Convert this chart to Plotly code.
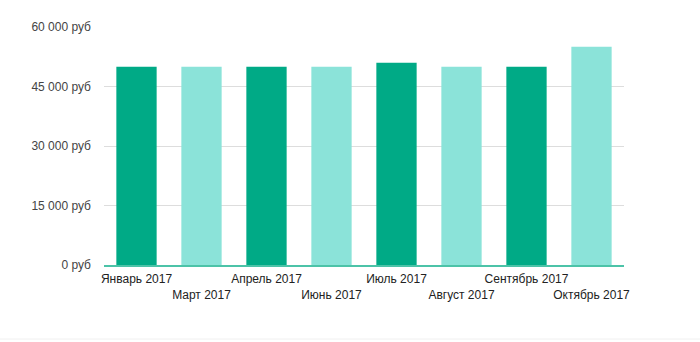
import plotly.graph_objects as go

months = ["Январь 2017", "Март 2017", "Апрель 2017", "Июнь 2017",
          "Июль 2017", "Август 2017", "Сентябрь 2017", "Октябрь 2017"]
salary = [50000, 50000, 50000, 50000, 51000, 50000, 50000, 55000]
bar_colors = ["#00aa86", "#8be3d9", "#00aa86", "#8be3d9",
              "#00aa86", "#8be3d9", "#00aa86", "#8be3d9"]
y_ticks = [0, 15000, 30000, 45000, 60000]
y_tick_labels = ["0 руб", "15 000 руб", "30 000 руб", "45 000 руб", "60 000 руб"]

# Stagger every other month label onto a second line
x_tick_labels = [m if i % 2 == 0 else "<br>" + m for i, m in enumerate(months)]

fig = go.Figure(go.Bar(
    x=months,
    y=salary,
    marker=dict(color=bar_colors, line=dict(width=0)),
    hoverinfo="x+y",
))

fig.update_layout(
    width=700,
    height=342,
    margin=dict(l=104, r=76, t=27, b=77),
    paper_bgcolor="white",
    plot_bgcolor="white",
    bargap=0.38,
    showlegend=False,
    font=dict(family="Liberation Sans, Arial, sans-serif", size=12, color="#222"),
    xaxis=dict(
        tickmode="array",
        tickvals=months,
        ticktext=x_tick_labels,
        tickangle=0,
        automargin=False,
        showgrid=False,
        showline=True,
        linecolor="#4cc3a8",
        linewidth=2,
        ticks="",
        ticklabelstandoff=2,
        tickfont=dict(size=12, color="#222"),
        fixedrange=True,
    ),
    yaxis=dict(
        range=[0, 60000],
        tickmode="array",
        tickvals=y_ticks,
        ticktext=y_tick_labels,
        automargin=False,
        showgrid=True,
        gridcolor="#dddddd",
        gridwidth=1,
        zeroline=False,
        showline=False,
        ticks="",
        ticklabelstandoff=12,
        tickfont=dict(size=12, color="#444"),
        fixedrange=True,
    ),
    shapes=[dict(type="line", xref="paper", yref="paper",
                 x0=-104 / 520, x1=1 + 76 / 520, y0=-74 / 238, y1=-74 / 238,
                 line=dict(color="#f0f0f0", width=1))],
)

fig.write_html("out.html")
